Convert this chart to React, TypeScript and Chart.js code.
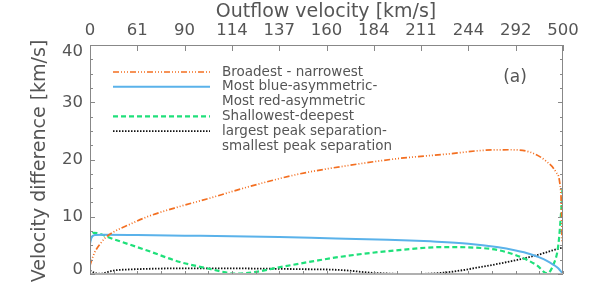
import { useEffect, useRef } from 'react';
import { Chart, registerables } from 'chart.js';
Chart.register(...registerables);

const FONT = '"DejaVu Sans", sans-serif';
const TEXT = '#555';

// Top axis: equally spaced positions labelled with outflow velocity
const xTickLabels = ['0', '61', '90', '114', '137', '160', '184', '211', '244', '292', '500'];
const yTickValues = [0, 10, 20, 30, 40];

// Broadest - narrowest
const broadX = [0, 0.04, 0.1, 0.21, 0.32, 0.49, 0.85, 1.21, 1.9, 2.47, 3.38, 4.44, 5.5, 6.55, 7.61, 8.31, 8.88, 9.3, 9.66, 9.85, 9.93, 9.965, 9.98];
const broadY = [1.5, 2.5, 3.8, 5.2, 6.3, 7.3, 8.7, 10.0, 11.8, 13.1, 15.3, 17.5, 19.0, 20.2, 21.0, 21.6, 21.7, 21.3, 19.6, 17.8, 16.0, 12.0, 5.7];

// Most blue-asymmetric - most red-asymmetric
const blueX = [0, 0.03, 0.1, 0.3, 1, 2, 3, 4, 5.2, 6.3, 7.2, 8, 8.6, 9.0, 9.3, 9.5, 9.66, 9.8, 9.9, 10];
const blueY = [5.3, 6.3, 6.8, 6.85, 6.8, 6.7, 6.6, 6.45, 6.2, 6.0, 5.7, 5.3, 4.7, 4.1, 3.5, 2.9, 2.3, 1.6, 1.0, 0];

// Shallowest - deepest
const greenX = [0, 0.03, 0.08, 0.49, 1.21, 1.9, 2.47, 2.8, 3.05, 3.45, 4.02, 4.7, 5.29, 6.43, 7.48, 8.46, 9.03, 9.45, 9.66, 9.79, 9.9, 9.96, 9.99];
const greenY = [5.8, 6.8, 7.2, 6.1, 4.1, 2.1, 1.0, 0.4, 0.05, 0.3, 1.2, 2.2, 3.0, 4.1, 4.7, 4.4, 3.2, 1.5, 0.1, 1.5, 5.0, 10.8, 14.9];

// Largest peak separation - smallest peak separation
const blackX = [0, 0.1, 0.21, 0.49, 0.85, 1.21, 2.0, 2.6, 3.5, 4.4, 5.29, 5.99, 6.83, 7.55, 8.25, 8.94, 9.45, 9.94, 10];
const blackY = [0.6, 0.2, 0.05, 0.6, 0.8, 0.9, 1.0, 1.0, 0.95, 0.85, 0.7, 0.2, 0.0, 0.3, 1.2, 2.3, 3.3, 4.5, 4.6];

const legendItems = [
  { lines: ['Broadest - narrowest'], color: '#f36f21', dash: [6, 2, 1, 2, 1, 2, 1, 2], width: 1.7 },
  { lines: ['Most blue-asymmetric-', 'Most red-asymmetric'], color: '#5ab2ea', dash: [], width: 2 },
  { lines: ['Shallowest-deepest'], color: '#1fe07a', dash: [5, 3], width: 2.2 },
  { lines: ['largest peak separation-', 'smallest peak separation'], color: '#111', dash: [1.5, 1.5], width: 1.8 },
];

const pts = (xs: number[], ys: number[]) => xs.map((x, i) => ({ x, y: ys[i] }));

const decorPlugin = {
  id: 'decor',
  afterDraw(chart: any) {
    const { ctx, chartArea } = chart;
    const { left, right, top, bottom } = chartArea;
    const xs = chart.scales.x;
    const ys = chart.scales.y;
    ctx.save();
    // frame
    ctx.strokeStyle = '#888';
    ctx.lineWidth = 1;
    ctx.setLineDash([]);
    ctx.beginPath();
    ctx.moveTo(left + 0.5, bottom);
    ctx.lineTo(left + 0.5, top + 0.5);
    ctx.lineTo(right - 0.5, top + 0.5);
    ctx.lineTo(right - 0.5, bottom);
    ctx.stroke();
    ctx.strokeStyle = '#b0b0b0';
    ctx.lineWidth = 2;
    ctx.beginPath();
    ctx.moveTo(left, bottom);
    ctx.lineTo(right, bottom);
    ctx.stroke();
    // ticks
    ctx.strokeStyle = '#888';
    ctx.lineWidth = 1;
    ctx.beginPath();
    for (let i = 0; i < xTickLabels.length; i++) {
      const px = Math.round(xs.getPixelForValue(i)) + 0.5;
      ctx.moveTo(px, top);
      ctx.lineTo(px, top + 6);
    }
    for (let v = 0; v <= 10; v += 0.5) {
      const px = Math.round(xs.getPixelForValue(v)) + 0.5;
      ctx.moveTo(px, bottom);
      ctx.lineTo(px, bottom - 3);
    }
    for (let v = 0; v <= 40; v += 2.5) {
      const py = Math.round(ys.getPixelForValue(v)) + 0.5;
      const len = v % 10 === 0 ? 5 : 3;
      ctx.moveTo(left, py);
      ctx.lineTo(left + len, py);
      ctx.moveTo(right, py);
      ctx.lineTo(right - len, py);
    }
    ctx.stroke();
    // tick labels
    ctx.fillStyle = TEXT;
    ctx.font = `16.5px ${FONT}`;
    ctx.textBaseline = 'middle';
    ctx.textAlign = 'center';
    xTickLabels.forEach((t, i) => ctx.fillText(t, xs.getPixelForValue(i), 31));
    ctx.textAlign = 'right';
    yTickValues.forEach((v) => {
      const py = Math.min(Math.max(ys.getPixelForValue(v), top + 7), bottom - 4);
      ctx.fillText(String(v), 83, py);
    });
    // titles
    ctx.font = `19px ${FONT}`;
    ctx.textAlign = 'center';
    ctx.fillText('Outflow velocity [km/s]', 326, 12);
    ctx.save();
    ctx.translate(40, 161);
    ctx.rotate(-Math.PI / 2);
    ctx.fillText('Velocity difference [km/s]', 0, 0);
    ctx.restore();
    ctx.font = `17px ${FONT}`;
    ctx.fillText('(a)', 515, 78);
    // legend
    ctx.font = `13.5px ${FONT}`;
    ctx.textAlign = 'left';
    let row = 0;
    const y0 = 72;
    const dy = 14.8;
    for (const it of legendItems) {
      const yy = y0 + row * dy;
      ctx.strokeStyle = it.color;
      ctx.lineWidth = it.width;
      ctx.setLineDash(it.dash);
      ctx.beginPath();
      ctx.moveTo(113, yy);
      ctx.lineTo(210, yy);
      ctx.stroke();
      ctx.fillStyle = TEXT;
      it.lines.forEach((t, k) => ctx.fillText(t, 222, yy + k * dy));
      row += it.lines.length;
    }
    ctx.restore();
  },
};

export default function App() {
  const ref = useRef<HTMLCanvasElement>(null);
  useEffect(() => {
    document.body.style.margin = '0';
    const line = (data: any, it: any) => ({
      data,
      borderColor: it.color,
      borderDash: it.dash,
      borderWidth: it.width,
      pointRadius: 0,
      fill: false,
      cubicInterpolationMode: 'monotone' as const,
    });
    const chart = new Chart(ref.current!, {
      type: 'line',
      data: {
        datasets: [
          line(pts(broadX, broadY), legendItems[0]),
          line(pts(blueX, blueY), legendItems[1]),
          line(pts(greenX, greenY), legendItems[2]),
          line(pts(blackX, blackY), legendItems[3]),
        ],
      },
      options: {
        animation: false,
        responsive: true,
        maintainAspectRatio: false,
        layout: { padding: { top: 0, right: 35, bottom: 11, left: 0 } },
        plugins: { legend: { display: false }, tooltip: { enabled: false } },
        scales: {
          x: {
            type: 'linear',
            position: 'top',
            min: 0,
            max: 10,
            grid: { display: false },
            border: { display: false },
            ticks: { display: false },
            afterFit: (s: any) => {
              s.height = 45;
            },
          },
          y: {
            type: 'linear',
            min: 0,
            max: 40,
            grid: { display: false },
            border: { display: false },
            ticks: { display: false },
            afterFit: (s: any) => {
              s.width = 90;
            },
          },
        },
      },
      plugins: [decorPlugin],
    });
    return () => chart.destroy();
  }, []);
  return (
    <div style={{ position: 'absolute', left: 0, top: 0, width: 598, height: 285 }}>
      <canvas ref={ref} />
    </div>
  );
}
